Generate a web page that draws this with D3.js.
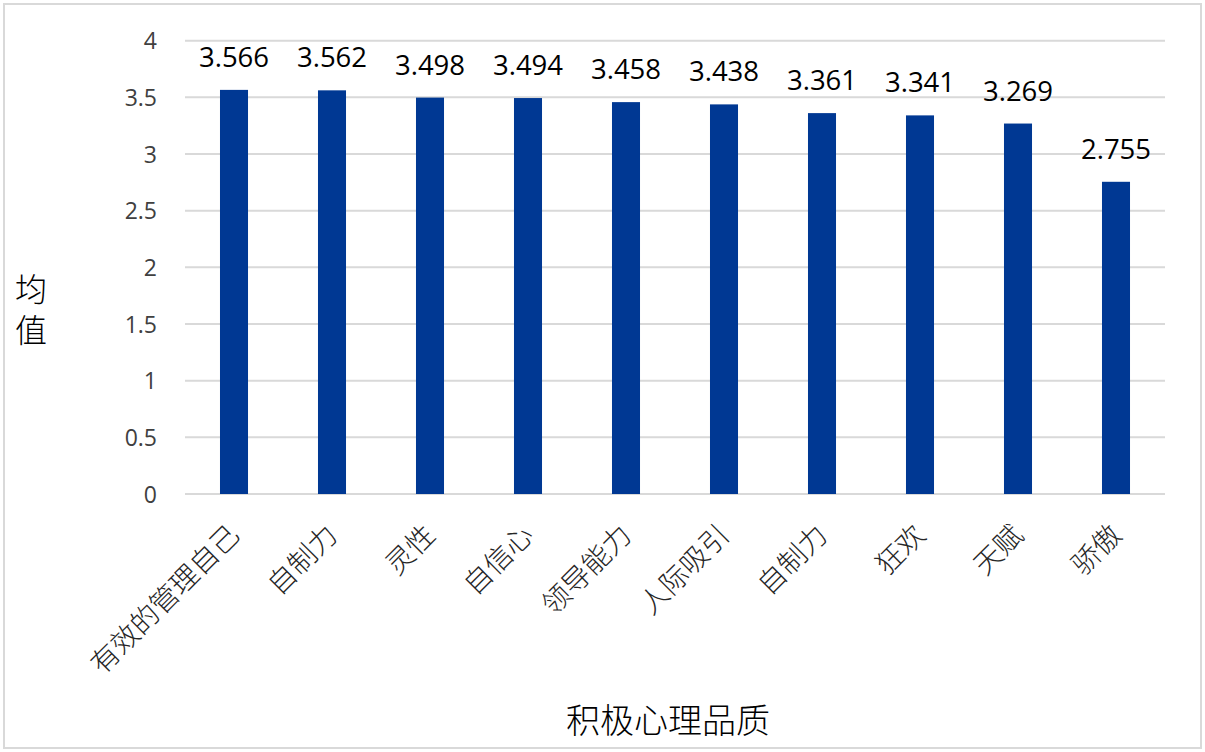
<!DOCTYPE html>
<html><head><meta charset="utf-8">
<script src="https://cdn.jsdelivr.net/npm/d3@7"></script>
<style>body{margin:0;background:#fff}svg{display:block}</style>
</head><body>
<script>
const categories = ["有效的管理自己","自制力","灵性","自信心","领导能力","人际吸引","自制力","狂欢","天赋","骄傲"];
const values = [3.566,3.562,3.498,3.494,3.458,3.438,3.361,3.341,3.269,2.755];
const yTicks = [0,0.5,1,1.5,2,2.5,3,3.5,4];
const yTickLabels = ["0","0.5","1","1.5","2","2.5","3","3.5","4"];
const yTitle = "均值";
const xTitle = "积极心理品质";

const W = 1205, H = 752;
const svg = d3.select("body").append("svg").attr("width", W).attr("height", H);
svg.append("rect").attr("x",4).attr("y",4).attr("width",1197).attr("height",744)
  .attr("fill","#fff").attr("stroke","#d9d9d9").attr("stroke-width",2);

const x = d3.scaleBand().domain(d3.range(categories.length)).range([185,1165]).padding(0);
const y = d3.scaleLinear().domain([0,4]).range([494,40.7]);
const barW = x.bandwidth()*0.286;
const cjk = "'Noto Sans CJK SC', sans-serif";
const num = "'Open Sans', 'Liberation Sans', sans-serif";

// gridlines
svg.append("g").selectAll("line").data(yTicks).join("line")
  .attr("x1",185).attr("x2",1165)
  .attr("y1",d=>y(d)).attr("y2",d=>y(d))
  .attr("stroke","#d9d9d9").attr("stroke-width",2);

// y axis labels
const yAxis = d3.axisLeft(y).tickValues(yTicks).tickFormat((d,i)=>yTickLabels[i]).tickSize(0).tickPadding(0);
const ya = svg.append("g").attr("transform","translate(157,0)").call(yAxis);
ya.select(".domain").remove();
ya.selectAll("text").attr("font-family",num).attr("font-size",23).attr("fill","#404040").attr("dy","0.36em");

// bars
svg.append("g").selectAll("rect").data(values).join("rect")
  .attr("x",(d,i)=>x(i)+x.bandwidth()/2-barW/2)
  .attr("width",barW)
  .attr("y",d=>y(d)).attr("height",d=>y(0)-y(d))
  .attr("fill","#003893");

// value labels
svg.append("g").selectAll("text").data(values).join("text")
  .attr("x",(d,i)=>x(i)+x.bandwidth()/2)
  .attr("y",d=>y(d)-23)
  .attr("text-anchor","middle")
  .attr("font-family",num).attr("font-size",27.5).attr("fill","#000")
  .text(d=>d.toFixed(3));

// category labels
svg.append("g").selectAll("text").data(categories).join("text")
  .attr("transform",(d,i)=>`translate(${x(i)+x.bandwidth()/2+7},${537}) rotate(-45)`)
  .attr("text-anchor","end")
  .attr("font-family",cjk).attr("font-weight",300).attr("font-size",28).attr("fill","#262626")
  .text(d=>d);

// y title (vertical)
svg.append("text").attr("x",31).attr("y",314)
  .attr("text-anchor","middle")
  .style("writing-mode","vertical-rl")
  .attr("letter-spacing",9)
  .attr("font-family",cjk).attr("font-weight",300).attr("font-size",32).attr("fill","#000")
  .text(yTitle);

// x title
svg.append("text").attr("x",668).attr("y",733).attr("text-anchor","middle")
  .attr("font-family",cjk).attr("font-weight",300).attr("font-size",34).attr("fill","#000")
  .text(xTitle);
</script>
</body></html>
